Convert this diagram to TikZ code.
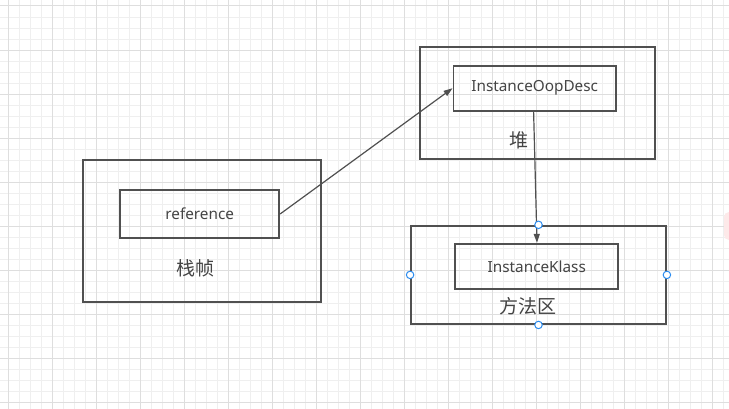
\documentclass[tikz,border=0pt]{standalone}
\usepackage{fontspec}
\setmainfont{Noto Sans}
\newfontfamily\cjk{Noto Sans CJK SC}
\usepackage{tikz}
\usetikzlibrary{arrows.meta,positioning}

\definecolor{linegray}{HTML}{505050}
\definecolor{textgray}{HTML}{444444}
\definecolor{gridminor}{HTML}{EFEFEF}
\definecolor{gridmajor}{HTML}{DEDEDE}
\definecolor{handleblue}{HTML}{2B8CF0}
\definecolor{blobpink}{HTML}{FDE9E9}

\begin{document}
\begin{tikzpicture}[x=1pt,y=-1pt,>={Triangle[length=9pt,width=6pt]},
   area/.style={draw=linegray,line width=1.8pt,rectangle,inner sep=0pt},
   obj/.style={draw=linegray,line width=1.8pt,rectangle,inner sep=0pt,
      text=textgray,font=\fontsize{15.3}{18}\selectfont},
   tag/.style={text=textgray,font=\cjk\fontsize{19}{22}\selectfont,inner sep=0pt},
   link/.style={->,draw=linegray,line width=1.2pt},
   handle/.style={circle,draw=handleblue,fill=white,line width=1pt,
      minimum size=7.5pt,inner sep=0pt}]
   \useasboundingbox (0,0) rectangle (729,409);
   \fill[white] (0,0) rectangle (729,409);
   % grid
   \foreach \i in {0,...,65} \draw[gridminor,line width=1pt] (8.3+11.008*\i,0) -- (8.3+11.008*\i,409);
   \foreach \i in {0,...,36} \draw[gridminor,line width=1pt] (0,6+11.008*\i) -- (729,6+11.008*\i);
   \foreach \i in {0,...,16} \draw[gridmajor,line width=1pt] (8.3+44.03*\i,0) -- (8.3+44.03*\i,409);
   \foreach \i in {0,...,9} \draw[gridmajor,line width=1pt] (0,6+44.03*\i) -- (729,6+44.03*\i);
   \fill[blobpink,rounded corners=5pt] (724,212) rectangle (740,240);

   % stack frame
   \node[area,minimum width=238pt,minimum height=142pt] (frame) at (201.7,231) {};
   \node[obj,minimum width=159pt,minimum height=48.5pt] (ref) at (199.7,214) {reference};
   \node[tag] (frameTag) at (195,268) {栈帧};

   % heap
   \node[area,minimum width=235pt,minimum height=112.5pt] (heap) at (537.5,103) {};
   \node[obj,minimum width=162.5pt,minimum height=45pt] (oop) at (534.7,88.2) {InstanceOopDesc};
   \node[tag] (heapTag) at (519,140) {堆};

   % method area
   \node[area,minimum width=255pt,minimum height=98.3pt] (method) at (538.5,274.9) {};
   \node[obj,minimum width=163pt,minimum height=45.5pt] (klass) at (536.8,266.5) {InstanceKlass};
   \node[tag] (methodTag) at (528,306) {方法区};

   \path (ref.east) edge[link] (oop.west)
      ([xshift=-1.1pt]oop.south) edge[link] ([xshift=0.2pt]klass.north);

   \node[handle] (hTop) at (method.north) {};
   \node[handle] (hLeft) at (method.west) {};
   \node[handle] (hRight) at (method.east) {};
   \node[handle] (hBottom) at (method.south) {};
\end{tikzpicture}
\end{document}
